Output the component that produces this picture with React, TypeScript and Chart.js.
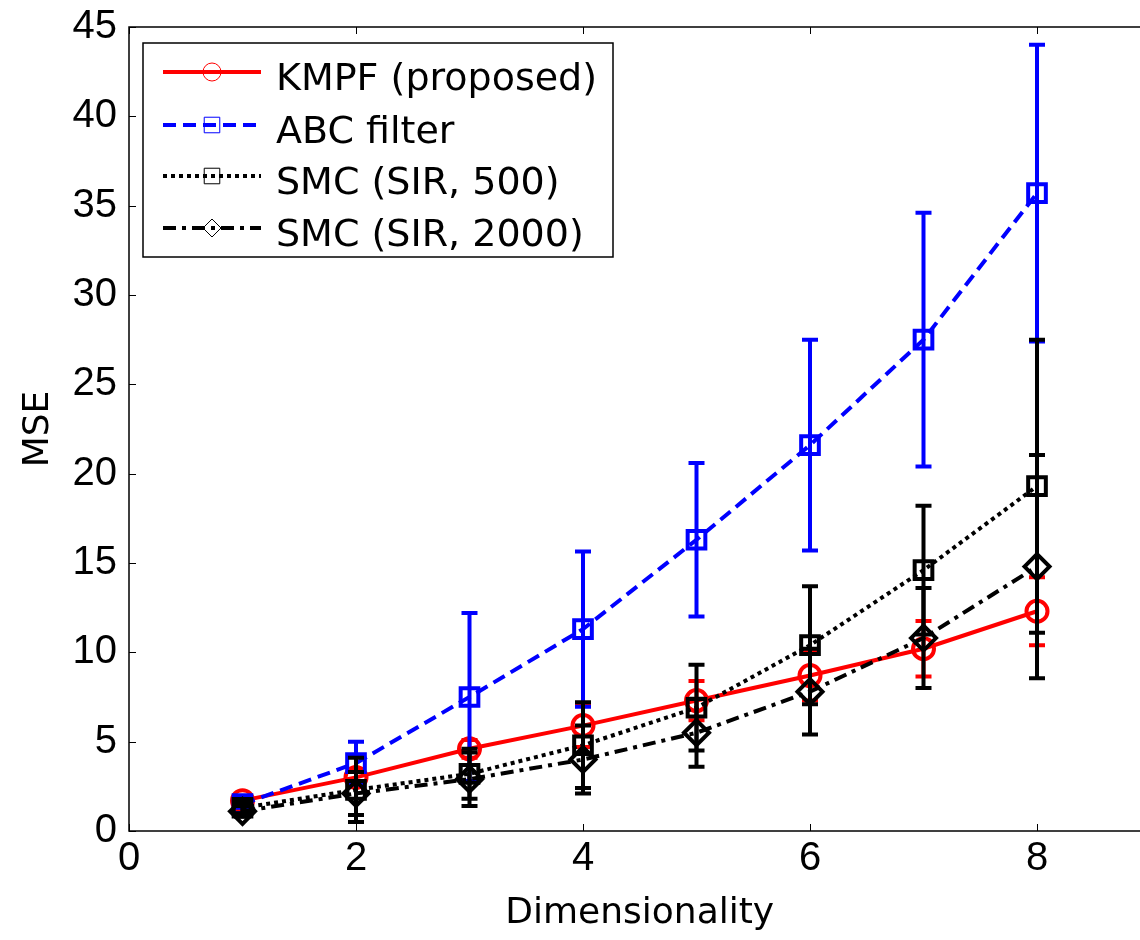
import React, { useEffect, useRef } from "react";
import { Chart, registerables } from "chart.js";

Chart.register(...registerables);

// ---------- data ----------
const dims = [1, 2, 3, 4, 5, 6, 7, 8];

const kmpfMean = [1.7, 3.0, 4.6, 5.9, 7.3, 8.7, 10.2, 12.3];
const kmpfErr = [0.2, 0.4, 0.5, 1.2, 1.1, 1.4, 1.55, 1.9];

const abcMean = [1.5, 3.8, 7.5, 11.3, 16.3, 21.6, 27.5, 35.7];
const abcErr = [0.2, 1.2, 4.7, 4.35, 4.3, 5.9, 7.1, 8.3];

const smc500Mean = [1.3, 2.3, 3.2, 4.8, 6.9, 10.4, 14.6, 19.3];
const smc500Err = [0.3, 1.8, 1.4, 2.4, 2.4, 3.3, 3.6, 8.2];

const smc2000Mean = [1.1, 2.1, 2.9, 4.0, 5.5, 7.8, 10.8, 14.8];
const smc2000Err = [0.3, 1.2, 1.5, 1.9, 1.9, 2.4, 2.8, 6.25];

const seriesLabels = ["KMPF (proposed)", "ABC filter", "SMC (SIR, 500)", "SMC (SIR, 2000)"];
const xTicks = [0, 2, 4, 6, 8];
const yTicks = [0, 5, 10, 15, 20, 25, 30, 35, 40, 45];

const xLabel = "Dimensionality";
const yLabel = "MSE";

// ---------- styles ----------
const TICK_FONT = "'Liberation Sans', Arial, sans-serif";
const TEXT_FONT = "'DejaVu Sans', sans-serif";

type Style = {
  color: string;
  dash: number[];
  point: string;
  radius: number;
  legendRadius: number;
};

const styles: Style[] = [
  { color: "#ff0000", dash: [], point: "circle", radius: 10.5, legendRadius: 9 },
  { color: "#0000ff", dash: [13, 7], point: "rect", radius: 12.5, legendRadius: 11 },
  { color: "#000000", dash: [4, 4], point: "rect", radius: 12.5, legendRadius: 11 },
  { color: "#000000", dash: [13, 6, 4, 6], point: "rectRot", radius: 12.5, legendRadius: 9 },
];

const means = [kmpfMean, abcMean, smc500Mean, smc2000Mean];
const errs = [kmpfErr, abcErr, smc500Err, smc2000Err];

const errorBarPlugin = {
  id: "errorBars",
  beforeDatasetDraw(chart: any, args: any) {
    const i = args.index;
    const e = errs[i];
    const ds = chart.data.datasets[i];
    const xs = chart.scales.x;
    const ys = chart.scales.y;
    const ctx = chart.ctx;
    ctx.save();
    ctx.strokeStyle = ds.borderColor;
    ctx.lineWidth = 4;
    ctx.setLineDash([]);
    ctx.lineCap = "butt";
    ds.data.forEach((p: any, j: number) => {
      const px = xs.getPixelForValue(p.x);
      const top = ys.getPixelForValue(p.y + e[j]);
      const bot = ys.getPixelForValue(p.y - e[j]);
      ctx.beginPath();
      ctx.moveTo(px, top);
      ctx.lineTo(px, bot);
      ctx.moveTo(px - 8, top);
      ctx.lineTo(px + 8, top);
      ctx.moveTo(px - 8, bot);
      ctx.lineTo(px + 8, bot);
      ctx.stroke();
    });
    ctx.restore();
  },
};

const boxPlugin = {
  id: "matlabBox",
  beforeDatasetsDraw(chart: any) {
    const { ctx, chartArea } = chart;
    const { left, right, top, bottom } = chartArea;
    const xs = chart.scales.x;
    const ys = chart.scales.y;
    ctx.save();
    ctx.strokeStyle = "#000";
    ctx.lineWidth = 1.5;
    ctx.setLineDash([]);
    ctx.strokeRect(left, top, right - left, bottom - top);
    ctx.lineWidth = 1;
    ctx.beginPath();
    const tl = 7;
    xTicks.forEach((v) => {
      const px = Math.round(xs.getPixelForValue(v)) + 0.5;
      ctx.moveTo(px, bottom);
      ctx.lineTo(px, bottom - tl);
      ctx.moveTo(px, top);
      ctx.lineTo(px, top + tl);
    });
    yTicks.forEach((v) => {
      const py = Math.round(ys.getPixelForValue(v)) + 0.5;
      ctx.moveTo(left, py);
      ctx.lineTo(left + tl, py);
      ctx.moveTo(right, py);
      ctx.lineTo(right - tl, py);
    });
    ctx.stroke();
    ctx.restore();
  },
};

function drawMarker(ctx: CanvasRenderingContext2D, kind: string, x: number, y: number, r: number) {
  ctx.beginPath();
  if (kind === "circle") {
    ctx.arc(x, y, r, 0, Math.PI * 2);
  } else if (kind === "rect") {
    const s = r * Math.SQRT1_2;
    ctx.rect(x - s, y - s, 2 * s, 2 * s);
  } else {
    ctx.moveTo(x - r, y);
    ctx.lineTo(x, y - r);
    ctx.lineTo(x + r, y);
    ctx.lineTo(x, y + r);
    ctx.closePath();
  }
  ctx.stroke();
}

const legendPlugin = {
  id: "matlabLegend",
  afterDraw(chart: any) {
    const ctx = chart.ctx as CanvasRenderingContext2D;
    const bx = 143, by = 43, bw = 470, bh = 214;
    ctx.save();
    ctx.fillStyle = "#fff";
    ctx.fillRect(bx, by, bw, bh);
    ctx.strokeStyle = "#000";
    ctx.lineWidth = 1.5;
    ctx.setLineDash([]);
    ctx.strokeRect(bx, by, bw, bh);
    const rows = [72, 125, 176, 228];
    seriesLabels.forEach((label, i) => {
      const st = styles[i];
      const y = rows[i];
      ctx.strokeStyle = st.color;
      ctx.lineWidth = 4;
      ctx.setLineDash(st.dash);
      ctx.beginPath();
      ctx.moveTo(163, y);
      ctx.lineTo(261, y);
      ctx.stroke();
      ctx.setLineDash([]);
      ctx.lineWidth = 1;
      drawMarker(ctx, st.point, 212, y, st.legendRadius);
      ctx.fillStyle = "#000";
      ctx.font = `38px ${TEXT_FONT}`;
      ctx.textBaseline = "alphabetic";
      ctx.textAlign = "left";
      ctx.fillText(label, 276, y + 18);
    });
    ctx.restore();
  },
};

export default function App() {
  const canvasRef = useRef<HTMLCanvasElement | null>(null);

  useEffect(() => {
    const canvas = canvasRef.current;
    if (!canvas) return;
    const datasets = seriesLabels.map((label, i) => ({
      label,
      data: dims.map((d, j) => ({ x: d, y: means[i][j] })),
      borderColor: styles[i].color,
      backgroundColor: "rgba(0,0,0,0)",
      borderWidth: 4,
      borderDash: styles[i].dash,
      pointStyle: styles[i].point as any,
      pointRadius: styles[i].radius,
      pointBorderWidth: 4,
      pointBorderColor: styles[i].color,
      pointBackgroundColor: "rgba(0,0,0,0)",
      tension: 0,
      fill: false,
      order: 4 - i,
      clip: false as any,
    }));

    const chart = new Chart(canvas, {
      type: "line",
      data: { datasets },
      plugins: [errorBarPlugin, boxPlugin, legendPlugin],
      options: {
        animation: false,
        responsive: false,
        devicePixelRatio: 1,
        parsing: false as any,
        layout: { padding: { left: 0, right: 9.5, top: 27, bottom: 0 } },
        plugins: {
          legend: { display: false },
          tooltip: { enabled: false },
          title: { display: false },
        },
        scales: {
          x: {
            type: "linear",
            min: 0,
            max: 9,
            afterBuildTicks: (s: any) => {
              s.ticks = xTicks.map((v) => ({ value: v }));
            },
            afterFit: (s: any) => {
              s.height = 109;
            },
            grid: { display: false, drawTicks: false },
            border: { display: false },
            ticks: {
              font: { family: TICK_FONT, size: 40, lineHeight: 1 },
              color: "#000",
              padding: 8,
              maxRotation: 0,
              autoSkip: false,
            },
            title: {
              display: true,
              text: xLabel,
              color: "#000",
              font: { family: TEXT_FONT, size: 36 },
              padding: { top: 0, bottom: 5 },
            },
          },
          y: {
            type: "linear",
            min: 0,
            max: 45,
            afterBuildTicks: (s: any) => {
              s.ticks = yTicks.map((v) => ({ value: v }));
            },
            afterFit: (s: any) => {
              s.width = 129;
            },
            grid: { display: false, drawTicks: false },
            border: { display: false },
            ticks: {
              font: { family: TICK_FONT, size: 40, lineHeight: 0.5 },
              color: "#000",
              padding: 12,
              autoSkip: false,
            },
            title: {
              display: true,
              text: yLabel,
              color: "#000",
              font: { family: TEXT_FONT, size: 36 },
              padding: { top: 17, bottom: 0 },
            },
          },
        },
      },
    });
    return () => chart.destroy();
  }, []);

  return (
    <div
      style={{
        position: "absolute",
        left: 0,
        top: 0,
        width: 1140,
        height: 940,
        overflow: "hidden",
        background: "#fff",
      }}
    >
      <canvas ref={canvasRef} width={1167} height={940} style={{ display: "block" }} />
    </div>
  );
}
